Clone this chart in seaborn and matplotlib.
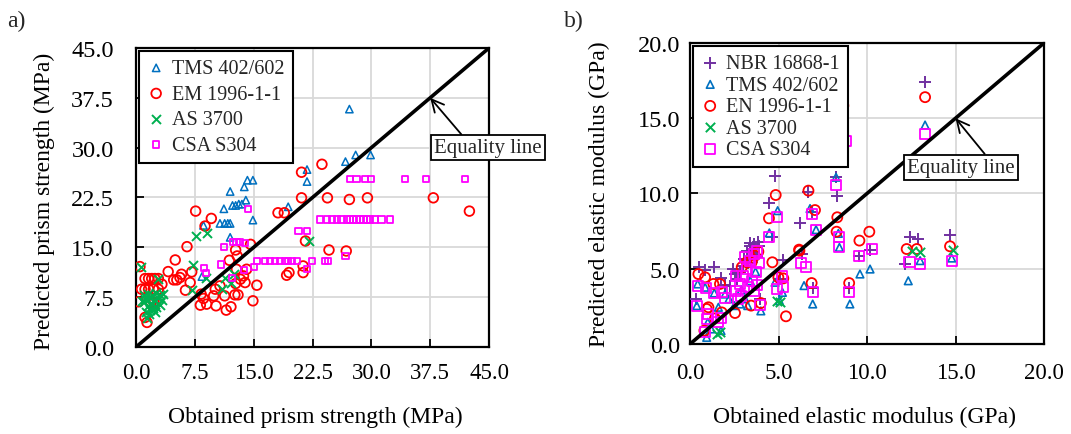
import matplotlib
matplotlib.use("Agg")
import matplotlib.pyplot as plt
from matplotlib.ticker import FormatStrFormatter
import seaborn as sns

# ---------------- Panel a data (prism strength, MPa) ----------------
a_tms_x = [27.2, 28.0, 29.9, 26.7, 21.8, 21.8, 19.4, 14.9, 14.2, 13.8, 12.0, 11.2, 12.3,
           12.7, 13.1, 13.5, 14.0, 10.7, 11.3, 11.7, 12.0, 14.9, 8.6, 12.0, 8.4]
a_tms_y = [35.8, 28.9, 28.9, 27.9, 26.7, 24.9, 21.1, 25.1, 25.1, 24.1, 23.4, 20.8, 21.3,
           21.3, 21.5, 21.5, 22.1, 18.6, 18.6, 18.6, 18.6, 19.1, 18.3, 16.5, 10.6]

a_em_x = [23.7, 21.1, 21.1, 24.4, 27.2, 29.5, 37.9, 42.5, 18.1, 18.9, 7.6, 9.6, 8.8, 6.5,
          5.0, 4.1, 4.8, 5.2, 5.6, 5.8, 7.1, 6.9, 6.3, 8.3, 8.6, 8.2, 9.0, 9.9, 10.2, 10.1,
          10.7, 11.3, 11.5, 12.1, 12.6, 13.0, 12.7, 12.8, 12.7, 12.9, 11.9, 13.3, 13.7, 13.9,
          14.1, 15.4, 14.9, 14.6, 21.6, 19.2, 19.5, 21.3, 21.3, 24.6, 26.8, 0.5, 1.15, 1.6,
          2.0, 2.4, 2.85, 0.7, 1.15, 1.6, 2.2, 2.85, 0.3, 1.9, 2.3, 1.4, 1.15, 3.3]
a_em_y = [27.5, 26.3, 22.45, 22.45, 22.2, 22.45, 22.45, 20.45, 20.2, 20.2, 20.45, 19.35,
          18.2, 15.1, 13.1, 11.35, 10.1, 10.1, 10.45, 10.95, 11.3, 9.7, 8.55, 7.95, 7.3, 6.3,
          6.45, 7.7, 6.2, 8.7, 9.2, 7.7, 5.55, 6.05, 7.85, 7.85, 9.55, 11.7, 14.6, 13.7, 13.05,
          10.2, 10.7, 9.7, 11.7, 9.3, 6.95, 15.45, 15.95, 10.8, 11.2, 11.2, 12.2, 14.6, 14.45,
          12.1, 10.3, 10.3, 10.3, 10.3, 10.3, 8.7, 8.7, 8.7, 8.7, 8.7, 6.8, 6.7, 6.7, 3.7,
          4.45, 9.45]

a_as_x = [22.0, 7.7, 9.0, 7.3, 8.9, 7.1, 0.6, 2.8, 11.0, 12.1, 12.5, 11.4,
          1.0, 1.5, 2.0, 2.5, 3.0, 3.5, 1.2, 1.8, 2.3, 2.8, 3.3, 1.5, 2.0, 2.6, 3.1,
          1.3, 1.8, 2.4, 1.0, 1.6, 2.2, 1.45, 0.8]
a_as_y = [15.95, 16.7, 17.2, 12.4, 10.4, 8.65, 12.1, 10.3, 8.8, 9.7, 11.0, 10.45,
          7.9, 8.0, 7.8, 8.1, 7.9, 8.0, 7.2, 7.3, 7.0, 7.4, 7.1, 6.2, 6.4, 6.0, 6.3,
          5.3, 5.5, 5.2, 6.7, 5.0, 5.8, 4.3, 6.9]

a_csa_x = [27.3, 28.1, 29.2, 30.0, 34.3, 37.0, 41.9,
           23.5, 24.3, 25.0, 25.6, 26.2, 26.9, 27.3, 27.7, 28.1, 28.6, 29.0, 29.4, 29.8,
           30.5, 31.3, 32.4,
           14.3, 20.7, 21.8, 11.2, 12.4, 12.8, 13.3, 13.9,
           15.4, 16.4, 17.1, 17.7, 18.4, 19.0, 19.4, 19.9, 20.5, 22.4, 24.1, 24.5,
           26.7, 21.8, 10.8, 8.7, 8.9, 13.8, 15.0, 12.2]
a_csa_y = [25.3, 25.3, 25.3, 25.3, 25.3, 25.3, 25.3,
           19.2, 19.2, 19.2, 19.2, 19.2, 19.2, 19.2, 19.2, 19.2, 19.2, 19.2, 19.2, 19.2,
           19.2, 19.2, 19.2,
           20.8, 17.5, 17.5, 15.0, 15.8, 15.8, 15.8, 15.6,
           12.9, 12.9, 12.9, 12.9, 12.9, 12.9, 12.9, 12.9, 12.9, 12.9, 12.9, 12.9,
           13.7, 11.7, 12.4, 11.9, 11.1, 11.6, 12.0, 10.4]

# ---------------- Panel b data (elastic modulus, GPa) ----------------
b_nbr_x = [13.28, 12.43, 12.9, 14.69, 12.15, 8.66, 8.1, 8.25, 8.32, 6.69, 6.87, 6.21, 10.17,
           9.57, 8.99, 6.93, 6.3, 4.8, 4.46, 4.65, 3.84, 3.62, 3.39, 3.05, 3.43, 3.8, 0.49,
           0.87, 1.34, 1.73, 0.36, 5.25, 5.07, 3.94, 2.43, 2.52, 2.67, 2.24, 1.96, 3.2, 3.5,
           3.0, 3.7, 2.8, 3.3, 3.6, 3.9, 3.4]
b_nbr_y = [17.43, 7.09, 6.98, 7.24, 5.3, 15.66, 12.18, 11.1, 9.86, 10.12, 8.75, 8.04, 6.27,
           5.87, 3.7, 3.7, 6.0, 11.19, 9.37, 7.09, 6.8, 6.65, 6.53, 5.65, 5.76, 5.76, 5.09,
           4.93, 5.09, 4.36, 3.02, 5.6, 4.32, 3.02, 4.98, 4.65, 4.32, 3.83, 3.92, 6.2, 6.1,
           5.2, 5.9, 4.8, 5.4, 6.3, 6.5, 6.7]

b_tms_x = [13.28, 12.33, 13.0, 14.78, 8.75, 8.25, 6.78, 7.12, 8.38, 8.44, 10.17, 9.6, 9.03,
           6.93, 6.44, 4.95, 4.48, 0.43, 0.85, 1.37, 0.38, 1.6, 1.98, 2.5, 2.82, 3.26, 4.0,
           1.0, 1.19, 1.75, 0.94, 5.05, 4.8, 5.22, 2.2, 2.9, 3.4, 3.7, 3.1]
b_tms_y = [14.55, 4.2, 5.54, 5.71, 14.07, 11.08, 9.0, 7.6, 7.35, 6.42, 4.98, 4.65, 2.66,
           2.66, 3.88, 8.86, 7.38, 3.99, 3.77, 3.39, 2.55, 2.44, 3.32, 2.55, 2.66, 2.55, 2.2,
           1.44, 1.0, 0.89, 0.44, 2.88, 4.1, 3.43, 3.0, 3.6, 4.2, 4.8, 3.0]

b_en_x = [13.28, 12.24, 12.81, 14.69, 8.66, 8.1, 6.69, 7.06, 8.32, 8.28, 10.13, 9.57, 8.99,
          6.87, 6.18, 5.42, 4.84, 4.46, 6.16, 4.65, 0.47, 0.85, 1.32, 1.69, 2.54, 3.45, 4.0,
          0.94, 1.04, 1.41, 0.81, 1.79, 2.92, 3.48, 3.67, 3.86, 4.99, 5.27, 3.2]
b_en_y = [16.4, 6.31, 6.31, 6.49, 15.84, 12.4, 10.19, 8.9, 8.42, 7.46, 7.46, 6.87, 4.05,
          4.05, 6.2, 1.84, 9.9, 8.35, 6.27, 5.43, 4.65, 4.43, 3.99, 3.99, 2.06, 2.55, 2.72,
          2.33, 2.44, 1.7, 0.89, 2.1, 5.1, 5.43, 5.87, 6.14, 4.43, 4.36, 5.43]

b_as_x = [12.52, 13.0, 14.84, 5.08, 4.9, 1.5, 1.69]
b_as_y = [6.16, 6.09, 6.27, 2.77, 2.88, 0.66, 0.78]

b_csa_x = [13.28, 12.4, 13.0, 14.78, 8.81, 8.25, 6.87, 7.12, 8.44, 8.44, 10.26, 9.57, 8.99,
           6.93, 6.25, 6.55, 4.9, 4.48, 0.38, 0.47, 0.88, 1.37, 1.79, 1.98, 1.0, 0.94, 1.6,
           1.75, 0.85, 3.95, 4.9, 5.27, 5.18,
           2.6, 2.8, 3.0, 3.2, 3.4, 3.6, 3.8, 3.5, 3.7, 3.9, 2.9, 3.3, 2.6, 3.1, 3.6, 3.8, 2.7]
b_csa_y = [13.95, 5.43, 5.32, 5.54, 13.51, 10.59, 8.64, 7.6, 7.09, 6.42, 6.31, 5.87, 3.48,
           3.48, 5.38, 5.09, 8.42, 7.09, 2.5, 3.88, 3.7, 3.39, 3.43, 3.03, 1.99, 1.66, 1.44,
           1.7, 0.82, 2.59, 3.65, 3.77, 4.54,
           3.5, 4.0, 4.5, 5.0, 5.5, 6.0, 6.2, 4.2, 4.8, 5.4, 3.2, 3.8, 4.5, 5.8, 3.5, 3.9, 3.0]

a_ticks = [0.0, 7.5, 15.0, 22.5, 30.0, 37.5, 45.0]
b_ticks = [0.0, 5.0, 10.0, 15.0, 20.0]

BLUE = "#0070C0"
RED = "#FF0000"
GREEN = "#00B050"
MAG = "#FF00FF"
PURP = "#7030A0"

sns.set_theme(style="whitegrid")
plt.rcParams["font.family"] = ["Liberation Serif", "DejaVu Serif"]

fig = plt.figure(figsize=(10.71, 4.35), dpi=100)
ax1 = fig.add_axes([0.127, 0.2, 0.3296, 0.6874])
ax2 = fig.add_axes([0.6443, 0.2069, 0.3305, 0.692])


def open_pts(ax, x, y, marker, color, s, label, lw=1.2):
    sns.scatterplot(x=x, y=y, ax=ax, marker=marker, s=s, facecolors="none",
                    edgecolors=color, linewidth=lw, label=label, zorder=3)


def line_pts(ax, x, y, marker, color, s, label, lw=1.2):
    sns.scatterplot(x=x, y=y, ax=ax, marker=marker, s=s, color=color,
                    linewidth=lw, label=label, zorder=3)


def style(ax, ticks, xpad, ypad):
    lim = [ticks[0], ticks[-1]]
    ax.set_xlim(lim)
    ax.set_ylim(lim)
    ax.set_xticks(ticks)
    ax.set_yticks(ticks)
    ax.xaxis.set_major_formatter(FormatStrFormatter("%.1f"))
    ax.yaxis.set_major_formatter(FormatStrFormatter("%.1f"))
    ax.grid(True, color="#D9D9D9", lw=1.3)
    ax.set_axisbelow(True)
    for sp in ax.spines.values():
        sp.set_visible(True)
        sp.set_color("black")
        sp.set_linewidth(1.6)
    ax.tick_params(direction="in", length=6, width=1.3, color="black",
                   bottom=True, left=True, top=False, right=False)
    ax.tick_params(axis="x", pad=xpad, labelsize=16.5, labelcolor="black")
    ax.tick_params(axis="y", pad=ypad, labelsize=17.5, labelcolor="black")
    # equality line
    ax.plot(lim, lim, color="black", lw=2.6, zorder=4)


# ---- panel a ----
open_pts(ax1, a_tms_x, a_tms_y, "^", BLUE, 28, "TMS 402/602", 1.1)
open_pts(ax1, a_em_x, a_em_y, "o", RED, 48, "EM 1996-1-1", 1.3)
line_pts(ax1, a_as_x, a_as_y, "x", GREEN, 42, "AS 3700", 1.4)
open_pts(ax1, a_csa_x, a_csa_y, "s", MAG, 20, "CSA S304", 1.3)
style(ax1, a_ticks, 11, 16)

# ---- panel b ----
line_pts(ax2, b_nbr_x, b_nbr_y, "+", PURP, 65, "NBR 16868-1", 1.4)
open_pts(ax2, b_tms_x, b_tms_y, "^", BLUE, 30, "TMS 402/602", 1.2)
open_pts(ax2, b_en_x, b_en_y, "o", RED, 52, "EN 1996-1-1", 1.3)
line_pts(ax2, b_as_x, b_as_y, "x", GREEN, 45, "AS 3700", 1.4)
open_pts(ax2, b_csa_x, b_csa_y, "s", MAG, 52, "CSA S304", 1.3)
style(ax2, b_ticks, 13, 7)

for ax, spacing in ((ax1, 0.32), (ax2, 0.12)):
    leg = ax.legend(loc="upper left", bbox_to_anchor=(0.0, 1.0), fontsize=14.5,
                    frameon=True, fancybox=False, framealpha=1, edgecolor="black",
                    borderaxespad=0.15, borderpad=0.4, handlelength=0.9,
                    handletextpad=0.35, labelspacing=spacing)
    leg.get_frame().set_linewidth(1.5)
    leg.set_zorder(6)

# axis labels
ax1.set_xlabel("Obtained prism strength (MPa)", fontsize=17, color="black")
ax1.set_ylabel("Predicted prism strength (MPa)", fontsize=17, color="black")
ax1.xaxis.set_label_coords(0.507, -0.197)
ax1.yaxis.set_label_coords(-0.23, 0.49)
ax2.set_xlabel("Obtained elastic modulus (GPa)", fontsize=17, color="black")
ax2.set_ylabel("Predicted elastic modulus (GPa)", fontsize=17, color="black")
ax2.xaxis.set_label_coords(0.494, -0.206)
ax2.yaxis.set_label_coords(-0.226, 0.5)

# equality line annotations
bbox = dict(boxstyle="square,pad=0.15", fc="white", ec="black", lw=1.3)
ax1.annotate("Equality line", xy=(37.5, 37.5), xytext=(44.9, 30.0),
             ha="center", va="center", fontsize=15, bbox=bbox, zorder=7,
             annotation_clip=False,
             arrowprops=dict(arrowstyle="->", color="black", lw=1.3,
                             relpos=(0.28, 1.0), shrinkA=0, shrinkB=0,
                             mutation_scale=22))
ax2.annotate("Equality line", xy=(15.0, 15.0), xytext=(15.3, 11.75),
             ha="center", va="center", fontsize=15, bbox=bbox, zorder=7,
             annotation_clip=False,
             arrowprops=dict(arrowstyle="->", color="black", lw=1.3,
                             relpos=(0.75, 1.0), shrinkA=0, shrinkB=0,
                             mutation_scale=22))

fig.text(0.007, 0.975, "a)", fontsize=17, va="top", ha="left")
fig.text(0.527, 0.975, "b)", fontsize=17, va="top", ha="left")

fig.savefig("out.png", dpi=100)
